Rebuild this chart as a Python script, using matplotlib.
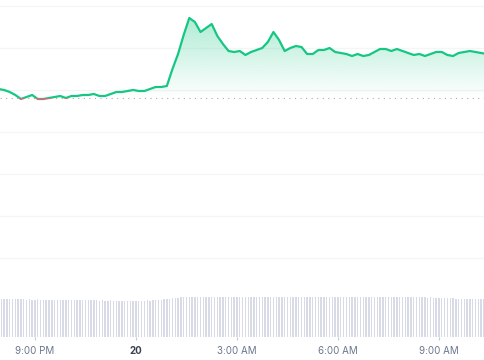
import numpy as np
import pandas as pd
import matplotlib
matplotlib.use("Agg")
import matplotlib.pyplot as plt
import matplotlib.dates as mdates
from matplotlib.patches import Polygon, Rectangle

# price, sampled every 10 minutes
times = pd.date_range("2024-03-19 19:55", periods=88, freq="10min")
prices = [311, 310, 308, 305, 301, 303, 305, 301, 301, 302,
          303, 304, 302, 304, 304, 305, 305, 306, 304, 304,
          306, 308, 308, 309, 310, 309, 309, 311, 313, 313,
          314, 331, 346, 365, 382, 378, 368, 372, 376, 364,
          356, 349, 348, 349, 345, 348, 350, 352, 358, 368,
          360, 349, 352, 354, 353, 346, 346, 350, 350, 352,
          348, 347, 346, 344, 346, 344, 345, 348, 351, 351,
          349, 351, 349, 347, 345, 346, 344, 346, 348, 348,
          345, 344, 347, 348, 349, 348, 347, 346]
open_price = 302

# volume, 5 minute bars
vol_times = pd.date_range("2024-03-19 20:00", periods=173, freq="5min")
volumes = [38.2, 38.0, 38.1, 37.9, 38.0, 37.8, 37.9, 37.6, 37.7, 37.5,
           37.6, 37.4, 37.5, 37.6, 37.3, 37.4, 37.5, 37.2, 37.3, 37.4,
           37.1, 37.2, 37.0, 37.1, 37.2, 36.9, 37.0, 36.8, 36.9, 37.0,
           36.8, 36.7, 36.9, 36.6, 36.7, 36.5, 36.6, 36.4, 36.5, 36.6,
           36.4, 36.5, 36.3, 36.4, 36.5, 36.3, 36.4, 36.2, 36.4, 36.3,
           36.5, 36.4, 36.6, 36.5, 36.7, 36.8, 37.0, 37.2, 37.6, 38.0,
           38.4, 38.8, 39.1, 39.4, 39.6, 39.7, 39.8, 39.7, 39.9, 39.8,
           40.0, 39.9, 40.1, 40.0, 39.9, 40.1, 40.2, 40.0, 40.1, 39.9,
           40.0, 40.2, 40.1, 40.3, 40.1, 40.2, 40.0, 40.1, 40.2, 40.3,
           40.1, 40.2, 40.4, 40.3, 40.2, 40.1, 40.3, 40.2, 40.0, 40.1,
           40.2, 40.1, 40.0, 40.2, 40.1, 40.3, 40.2, 40.0, 40.1, 40.2,
           40.0, 40.1, 39.9, 40.0, 40.1, 40.2, 40.0, 39.9, 40.1, 40.0,
           40.1, 40.2, 40.0, 40.1, 39.9, 40.0, 40.1, 40.2, 40.0, 39.9,
           40.0, 40.1, 39.9, 40.0, 39.8, 39.9, 40.0, 39.8, 39.9, 40.0,
           39.8, 39.9, 39.7, 39.8, 39.9, 39.7, 39.8, 39.6, 39.7, 39.8,
           39.6, 39.7, 39.5, 39.6, 39.4, 39.5, 39.3, 39.4, 39.2, 39.0,
           38.8, 38.7, 38.5, 38.4, 38.3, 38.2, 38.3, 38.1, 38.2, 38.0,
           38.1, 37.9, 38.0]

tick_times = ["2024-03-19 21:00", "2024-03-20 00:00", "2024-03-20 03:00",
              "2024-03-20 06:00", "2024-03-20 09:00"]
tick_labels = ["9:00 PM", "20", "3:00 AM", "6:00 AM", "9:00 AM"]
grid_levels = [394, 352, 310, 268, 226, 184, 142]

green = "#16c784"
red = "#b07a78"

x = mdates.date2num(times)
p = np.array(prices, dtype=float)
xlim = (mdates.date2num(pd.Timestamp("2024-03-19 19:57:40")),
        mdates.date2num(pd.Timestamp("2024-03-20 10:22:00")))

fig = plt.figure(figsize=(4.85, 3.6), dpi=100)
ax = fig.add_axes([0, 0, 1, 1])
ax.set_xlim(xlim)
ax.set_ylim(40, 400)
for s in ax.spines.values():
    s.set_visible(False)
ax.set_xticks([])
ax.set_yticks(grid_levels)
ax.tick_params(left=False, labelleft=False)
ax.grid(axis="y", color="#f4f5f7", lw=1)

# gradient fill above the open price
top = p.max()
poly = Polygon(np.column_stack([np.r_[x[0], x, x[-1]],
                                np.r_[open_price, np.maximum(p, open_price), open_price]]),
               closed=True, facecolor="none", edgecolor="none", transform=ax.transData)
ax.add_patch(poly)
grad = np.zeros((256, 1, 4))
grad[:, 0, :3] = matplotlib.colors.to_rgb(green)
grad[:, 0, 3] = np.linspace(0.0, 0.34, 256)
im = ax.imshow(grad, extent=[x[0], x[-1], open_price, top], origin="lower",
               aspect="auto", interpolation="bilinear", zorder=2)
im.set_clip_path(poly)
ax.set_xlim(xlim)
ax.set_ylim(40, 400)

ax.axhline(open_price, color="#a6acb5", lw=0.8, ls=(0, (1, 4)), zorder=3)

above = Rectangle((xlim[0] - 1, open_price), 10, 1000, transform=ax.transData)
below = Rectangle((xlim[0] - 1, open_price - 1000), 10, 1000, transform=ax.transData)
lg, = ax.plot(x, p, color=green, lw=1.6, solid_joinstyle="round", zorder=4)
lg.set_clip_path(above)
lr, = ax.plot(x, p, color=red, lw=1.6, solid_joinstyle="round", zorder=4)
lr.set_clip_path(below)

# volume bars
axv = fig.add_axes([0, 23 / 360, 1, 42 / 360])
axv.patch.set_alpha(0)
axv.bar(mdates.date2num(vol_times), volumes, width=0.5 * 5 / 1440,
        color="#d8dbe5", linewidth=0)
axv.set_xlim(xlim)
axv.set_ylim(0, 42)
for s in axv.spines.values():
    s.set_visible(False)
axv.set_yticks([])
axv.set_xticks(mdates.date2num(pd.to_datetime(tick_times)))
axv.set_xticklabels(tick_labels, fontsize=7, color="#6b778c", family="Inter")
axv.tick_params(axis="x", length=2.5, width=0.8, color="#c5cad3", pad=4)
axv.get_xticklabels()[1].set_fontweight("bold")
axv.get_xticklabels()[1].set_color("#3a4150")

fig.savefig("out.png", dpi=100)
